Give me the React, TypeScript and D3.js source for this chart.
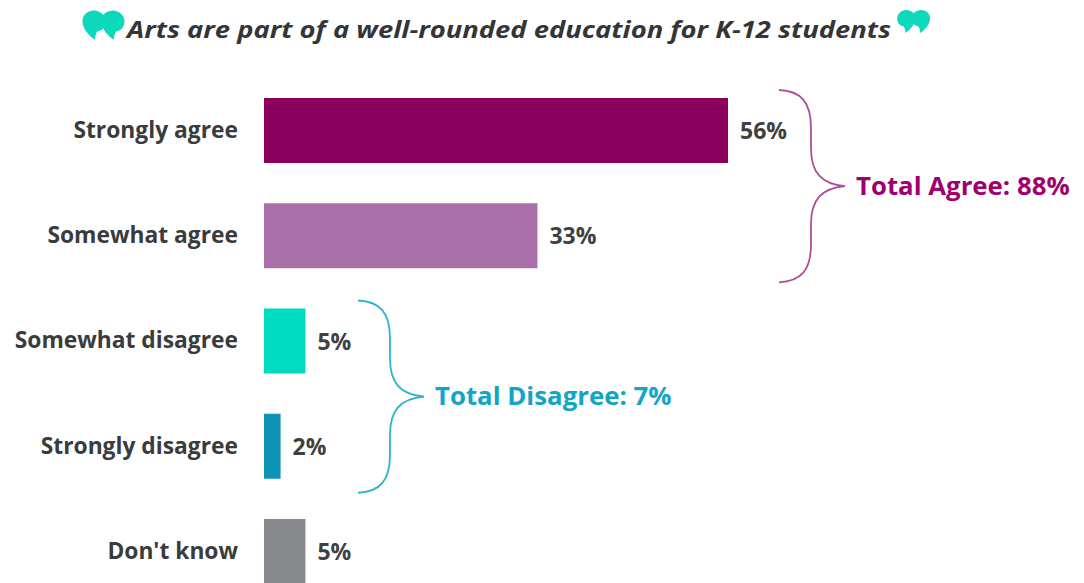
import React from "react";
import * as d3 from "d3";

const categories = ["Strongly agree", "Somewhat agree", "Somewhat disagree", "Strongly disagree", "Don't know"];
const seriesValues = [56, 33, 5, 2, 5];
const barColors = ["#8a005c", "#a86fa8", "#00dcc0", "#0e93b4", "#87898c"];
const titleText = "Arts are part of a well-rounded education for K-12 students";
const groupLabels = ["Total Agree: 88%", "Total Disagree: 7%"];
const groupColors = ["#a0006e", "#12a5c4"];
const groupSpans = [[0, 1], [2, 3]];

const font = "'Open Sans', sans-serif";

const x = d3.scaleLinear().domain([0, 56]).range([264, 728]);
const y = d3.scaleBand<string>().domain(categories).range([98, 584]).paddingInner(0.382).paddingOuter(0);

function bracePath(xStart: number, top: number, bottom: number) {
  const mid = (top + bottom) / 2;
  const xs = xStart + 32;
  const tip = xStart + 66;
  return `M${xStart},${top} C${xs - 10},${top + 1} ${xs},${top + 12} ${xs},${top + 38}
    L${xs},${mid - 38} C${xs},${mid - 14} ${xs + 10},${mid - 2} ${tip},${mid}
    C${xs + 10},${mid + 2} ${xs},${mid + 14} ${xs},${mid + 38}
    L${xs},${bottom - 38} C${xs},${bottom - 12} ${xs - 10},${bottom - 1} ${xStart},${bottom}`;
}

function Quote({ cx, cy, s, mirror }: { cx: number; cy: number; s: number; mirror: boolean }) {
  const mark = "M0,-11 C7,-11 11,-6 11,-1 C11,6 6,12 -1,17 C-1,13 -2,11 -3,9 C-8,8 -11,5 -11,-1 C-11,-6 -6,-11 0,-11 Z";
  return (
    <g transform={`translate(${cx},${cy}) scale(${mirror ? -s : s},${s})`} fill="#0cd8bc">
      <path d={mark} />
      <path d={mark} transform="translate(-18,0)" />
    </g>
  );
}

export default function App() {
  const h = y.bandwidth();
  const centers = categories.map((c) => (y(c) as number) + h / 2);
  return (
    <svg width={1084} height={583} style={{ position: "absolute", left: 0, top: 0, background: "#fff" }}>
      <Quote cx={94} cy={22} s={1.05} mirror={true} />
      <Quote cx={921} cy={19} s={0.82} mirror={false} />
      <text x={127} y={38} fontFamily={font} fontWeight={700} fontStyle="italic" fontSize={24} fill="#333538" textLength={764} lengthAdjust="spacingAndGlyphs">
        {titleText}
      </text>
      {categories.map((c, i) => (
        <g key={c}>
          <rect x={x(0)} y={y(c)} width={x(seriesValues[i]) - x(0)} height={h} fill={barColors[i]} />
          <text x={238} y={centers[i] - 0.5} dy="0.35em" textAnchor="end" fontFamily={font} fontWeight={700} fontSize={22.8} fill="#3a3b3d">
            {c}
          </text>
          <text x={x(seriesValues[i]) + 12} y={centers[i] + 0.5} dy="0.35em" fontFamily={font} fontWeight={700} fontSize={23} fill="#3f4042">
            {seriesValues[i]}%
          </text>
        </g>
      ))}
      {groupLabels.map((label, g) => {
        const [a, b] = groupSpans[g];
        const top = (y(categories[a]) as number) - 8;
        const bottom = (y(categories[b]) as number) + h + 14;
        const xStart = g === 0 ? 779 : 358;
        return (
          <g key={label}>
            <path d={bracePath(xStart, top, bottom)} fill="none" stroke={g === 0 ? "#ac4f94" : "#2cb2cc"} strokeWidth={1.8} />
            <text x={xStart + 77} y={(top + bottom) / 2 - 0.5} dy="0.35em" fontFamily={font} fontWeight={700} fontSize={25.8} fill={groupColors[g]}>
              {label}
            </text>
          </g>
        );
      })}
    </svg>
  );
}
